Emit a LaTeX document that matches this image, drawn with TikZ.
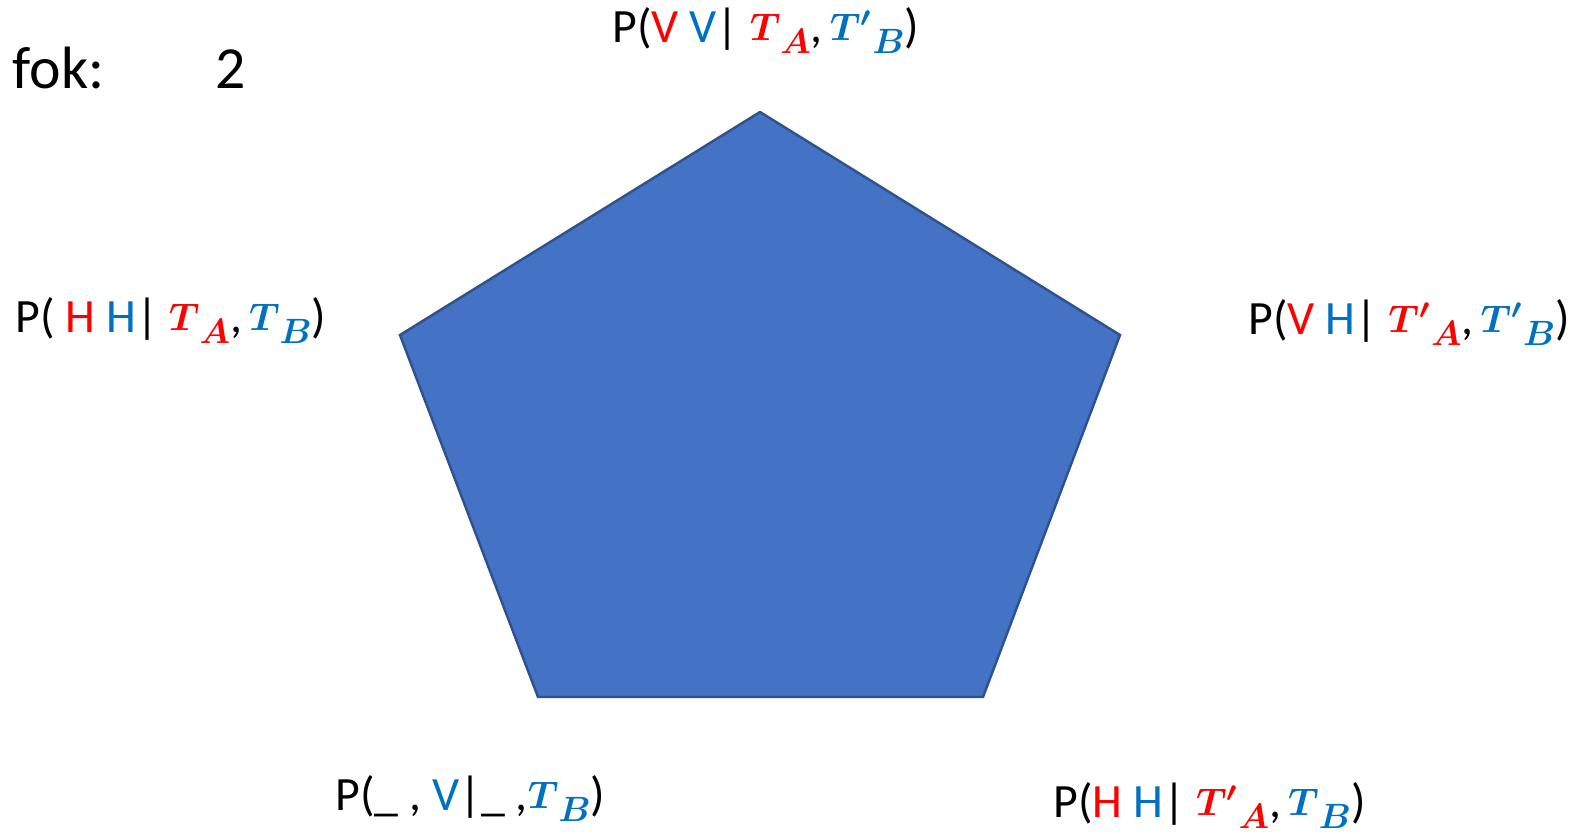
\documentclass[tikz,border=0pt]{standalone}
\usepackage{fontspec}
\setmainfont{Carlito}
\usepackage{bm}
\usetikzlibrary{positioning}
\definecolor{penta}{RGB}{68,114,196}
\definecolor{pentaline}{RGB}{47,82,143}
\definecolor{ared}{RGB}{255,0,0}
\definecolor{bblue}{RGB}{0,112,192}
\newcommand{\ra}[1]{\textcolor{ared}{#1}}
\newcommand{\bb}[1]{\textcolor{bblue}{#1}}
\newcommand{\tvar}[3]{\textcolor{#1}{\raisebox{0.5pt}{\fontsize{11}{14}\selectfont$\bm{T#2}$}\raisebox{-3.2pt}{\fontsize{9.8}{12}\selectfont$\bm{#3}$}}}
\newcommand{\tva}[1]{\tvar{ared}{#1}{A}}
\newcommand{\tvb}[1]{\tvar{bblue}{#1}{B}}
\newcommand{\cm}{,\hspace{2pt}}

\begin{document}
\begin{tikzpicture}[
			problabel/.style={
				anchor=base west,
				inner sep=0pt,
				font=\fontsize{13.6}{16}\selectfont
			},
			foklabel/.style={
				anchor=base west,
				inner sep=0pt,
				font=\fontsize{17}{20}\selectfont
			},
			pentagon/.style={
				fill=penta,
				draw=pentaline,
				line width=0.7pt,
				line join=miter
			}
		]
			\useasboundingbox (0,0) rectangle (15.70,8.33);
			
			\coordinate (vtop) at (7.60,7.21);
			\coordinate (vright) at (11.20,4.98);
			\coordinate (vbr) at (9.83,1.36);
			\coordinate (vbl) at (5.38,1.36);
			\coordinate (vleft) at (4.00,4.98);
			
			\draw[pentagon] (vtop) -- (vright) -- (vbr) -- (vbl) -- (vleft) -- cycle;
			
			\node[foklabel] (fok) at (0.12,7.45) {fok:};
			\node[foklabel] (fokval) at (2.15,7.45) {2};
			
			\node[problabel] (ptop) at (6.12,7.91) {P(\ra{V} \bb{V}| \tva{}\cm\tvb{'})};
			\node[problabel] (pleft) at (0.15,5.01) {P( \ra{H} \bb{H}| \tva{}\cm\tvb{})};
			\node[problabel] (pright) at (12.48,4.99) {P(\ra{V} \bb{H}| \tva{'}\cm\tvb{'})};
			\node[problabel] (pbl) at (3.35,0.23) {P(\_ , \bb{V}|\_ ,\tvb{})};
			\node[problabel] (pbr) at (10.53,0.16) {P(\ra{H} \bb{H}| \tva{'}\cm\tvb{})};
			
		\end{tikzpicture}
\end{document}
